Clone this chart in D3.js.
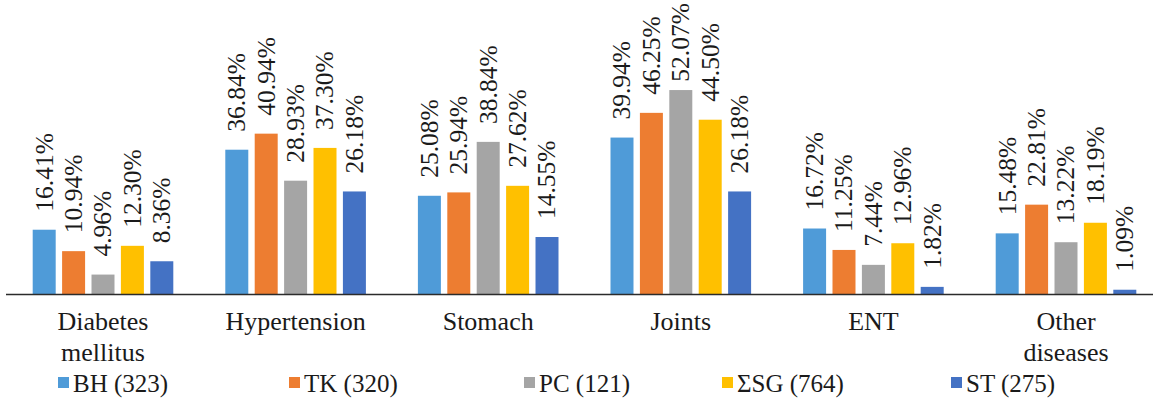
<!DOCTYPE html>
<html>
<head>
<meta charset="utf-8">
<script src="https://cdn.jsdelivr.net/npm/d3@7"></script>
<style>
  html, body { margin: 0; padding: 0; background: #ffffff; }
  svg { display: block; }
</style>
</head>
<body>
<svg id="chart" width="1153" height="409"></svg>
<script>
// Disease categories (line breaks mark two-line axis labels)
const categories = ["Diabetes\nmellitus", "Hypertension", "Stomach", "Joints", "ENT", "Other\ndiseases"];

// Groups shown in the legend
const seriesNames = ["BH (323)", "TK (320)", "PC (121)", "ΣSG (764)", "ST (275)"];
const seriesColors = ["#4f9bd8", "#ed7d31", "#a5a5a5", "#ffc000", "#4472c4"];

// Share of each group per category, percent
const bh  = [16.41, 36.84, 25.08, 39.94, 16.72, 15.48];
const tk  = [10.94, 40.94, 25.94, 46.25, 11.25, 22.81];
const pc  = [4.96, 28.93, 38.84, 52.07, 7.44, 13.22];
const ssg = [12.30, 37.30, 27.62, 44.50, 12.96, 18.19];
const st  = [8.36, 26.18, 14.55, 26.18, 1.82, 1.09];

const seriesValues = [bh, tk, pc, ssg, st];

const FONT = "'Liberation Serif', 'Times New Roman', 'DejaVu Serif', serif";

const svg = d3.select("#chart")
  .attr("font-family", FONT)
  .style("font-family", FONT);
const W = 1153, H = 409;
const baseY = 294;

const x0 = d3.scaleBand()
  .domain(d3.range(categories.length))
  .range([6.7, 1162.3])
  .paddingInner(0)
  .paddingOuter(0);

const groupWidth = 140.6;
const x1 = d3.scaleBand()
  .domain(d3.range(seriesNames.length))
  .range([0, groupWidth])
  .paddingInner(0.218)
  .paddingOuter(0);

const y = d3.scaleLinear().domain([0, 60]).range([baseY, baseY - 235]);

const labelSize = 25.5;

const groups = svg.append("g").selectAll("g")
  .data(categories)
  .join("g")
  .attr("transform", (d, i) => `translate(${x0(i) + x0.bandwidth() / 2 - groupWidth / 2},0)`);

const cells = groups.selectAll("g.cell")
  .data((d, i) => seriesValues.map((vals, s) => ({ s, v: vals[i] })))
  .join("g")
  .attr("class", "cell");

cells.append("rect")
  .attr("x", d => x1(d.s))
  .attr("width", x1.bandwidth())
  .attr("y", d => y(d.v))
  .attr("height", d => baseY - y(d.v))
  .attr("fill", d => seriesColors[d.s]);

// Rotated value labels above each bar
cells.append("text")
  .attr("font-family", FONT)
  .attr("font-size", labelSize)
  .attr("fill", "#1a1a1a")
  .attr("text-anchor", "start")
  .text(d => d.v.toFixed(2) + "%")
  .each(function (d) {
    const len = this.getComputedTextLength();
    let start = y(d.v) - 18;
    if (start - len < 3) start = len + 3;
    const cx = x1(d.s) + x1.bandwidth() / 2;
    d3.select(this)
      .attr("dy", "0.33em")
      .attr("transform", `translate(${cx},${start}) rotate(-90)`);
  });

// Category axis line
svg.append("line")
  .attr("x1", 6).attr("x2", W)
  .attr("y1", baseY + 0.5).attr("y2", baseY + 0.5)
  .attr("stroke", "#2b2b2b")
  .attr("stroke-width", 1.5);

// Category labels
const catLabels = svg.append("g").selectAll("text")
  .data(categories)
  .join("text")
  .attr("font-family", FONT)
  .attr("font-size", 26)
  .attr("fill", "#1a1a1a")
  .attr("text-anchor", "middle")
  .attr("x", (d, i) => x0(i) + x0.bandwidth() / 2)
  .attr("y", 330);

catLabels.selectAll("tspan")
  .data(d => d.split("\n"))
  .join("tspan")
  .attr("x", function () { return this.parentNode.getAttribute("x"); })
  .attr("dy", (d, i) => i === 0 ? 0 : 31)
  .text(d => d);

// Legend entries, left edge of each swatch
const legendX = [58, 289, 524, 722, 951];

const legend = svg.append("g").selectAll("g")
  .data(seriesNames)
  .join("g")
  .attr("transform", (d, i) => `translate(${legendX[i]},392)`);

legend.append("rect")
  .attr("x", 0).attr("y", -15)
  .attr("width", 11).attr("height", 11)
  .attr("fill", (d, i) => seriesColors[i]);

legend.append("text")
  .attr("font-family", FONT)
  .attr("font-size", 25)
  .attr("fill", "#1a1a1a")
  .attr("x", 15).attr("y", 0)
  .text(d => d);
</script>
</body>
</html>
